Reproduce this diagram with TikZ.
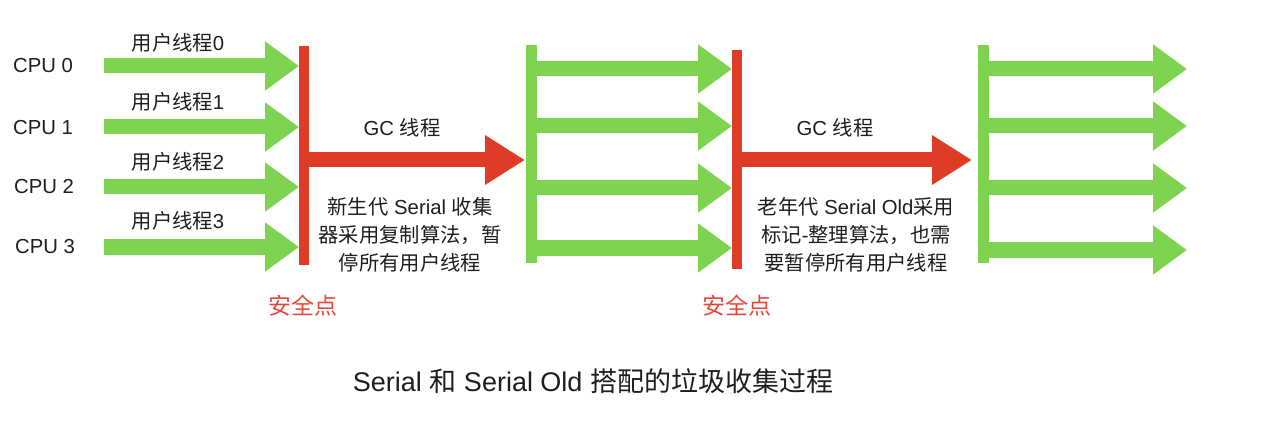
\documentclass[tikz,border=0pt]{standalone}
\usepackage{fontspec}
\setmainfont{Liberation Sans}
\newfontfamily\cjk{Noto Sans CJK SC}
\usetikzlibrary{arrows.meta}
\definecolor{gcgreen}{RGB}{126,211,81}
\definecolor{gcred}{RGB}{222,60,38}
\definecolor{sptred}{RGB}{232,70,58}
\definecolor{txt}{RGB}{30,30,30}
\begin{document}
\begin{tikzpicture}[x=1pt,y=-1pt,
  lbl/.style={inner sep=0pt, text=txt, font=\fontsize{20.3}{28}\selectfont},
  para/.style={lbl, align=center},
  safe/.style={inner sep=0pt, text=sptred, font=\cjk\fontsize{23}{28}\selectfont},
  ttl/.style={inner sep=0pt, text=txt, font=\fontsize{27}{30}\selectfont},
  gbar/.style={draw=gcgreen, line width=10.5pt},
  rbar/.style={draw=gcred, line width=10pt},
  garrow/.style={draw=gcgreen, line width=15pt, -{Triangle[length=34pt,width=47pt]}},
  rarrow/.style={draw=gcred, line width=15pt, -{Triangle[length=40pt,width=47pt]}},
]
\useasboundingbox (0,0) rectangle (1277,422);

% vertical bars
\coordinate (r1t) at (304,46);  \coordinate (r1b) at (304,265);
\coordinate (g2t) at (531.5,45); \coordinate (g2b) at (531.5,263);
\coordinate (r2t) at (737,50);  \coordinate (r2b) at (737,269);
\coordinate (g3t) at (983.5,45); \coordinate (g3b) at (983.5,263);
\draw[rbar] (r1t) -- (r1b);
\draw[gbar] (g2t) -- (g2b);
\draw[rbar] (r2t) -- (r2b);
\draw[gbar] (g3t) -- (g3b);

% left user thread arrows
\foreach \i/\y in {0/66,1/127,2/187,3/247}{
  \coordinate (ls\i) at (104,\y);
  \coordinate (le\i) at (299,\y);
  \draw[garrow] (ls\i) -- (le\i);
}
% middle user thread arrows
\foreach \i/\y in {0/69,1/126,2/188,3/248}{
  \coordinate (ms\i) at (536,\y);
  \coordinate (me\i) at (732,\y);
  \draw[garrow] (ms\i) -- (me\i);
}
% right user thread arrows
\foreach \i/\y in {0/69,1/126,2/188,3/250}{
  \coordinate (rs\i) at (988,\y);
  \coordinate (re\i) at (1187,\y);
  \draw[garrow] (rs\i) -- (re\i);
}
% GC arrows
\coordinate (gc1s) at (308,160); \coordinate (gc1e) at (525,160);
\coordinate (gc2s) at (741,160); \coordinate (gc2e) at (972,160);
\draw[rarrow] (gc1s) -- (gc1e);
\draw[rarrow] (gc2s) -- (gc2e);

% labels
\node[lbl] (cpu0) at (43,66) {CPU 0};
\node[lbl] (cpu1) at (43,128) {CPU 1};
\node[lbl] (cpu2) at (44,187) {CPU 2};
\node[lbl] (cpu3) at (45,247) {CPU 3};
\node[lbl] (ut0) at (178,43) {{\cjk 用户线程}0};
\node[lbl] (ut1) at (178,102) {{\cjk 用户线程}1};
\node[lbl] (ut2) at (178,162) {{\cjk 用户线程}2};
\node[lbl] (ut3) at (178,221) {{\cjk 用户线程}3};

\node[lbl] (gct1) at (402,128) {GC {\cjk 线程}};
\node[lbl] (gct2) at (835,128) {GC {\cjk 线程}};

\node[para] (p1) at (410,235) {{\cjk 新生代} Serial {\cjk 收集}\\{\cjk 器采用复制算法，暂}\\{\cjk 停所有用户线程}};
\node[para] (p2) at (856,235) {{\cjk 老年代} Serial Old{\cjk 采用}\\{\cjk 标记}-{\cjk 整理算法，也需}\\{\cjk 要暂停所有用户线程}};

\node[safe] (sp1) at (303,306) {安全点};
\node[safe] (sp2) at (737,306) {安全点};

\node[ttl] (title) at (593,381) {Serial {\cjk 和} Serial Old {\cjk 搭配的垃圾收集过程}};
\end{tikzpicture}
\end{document}
